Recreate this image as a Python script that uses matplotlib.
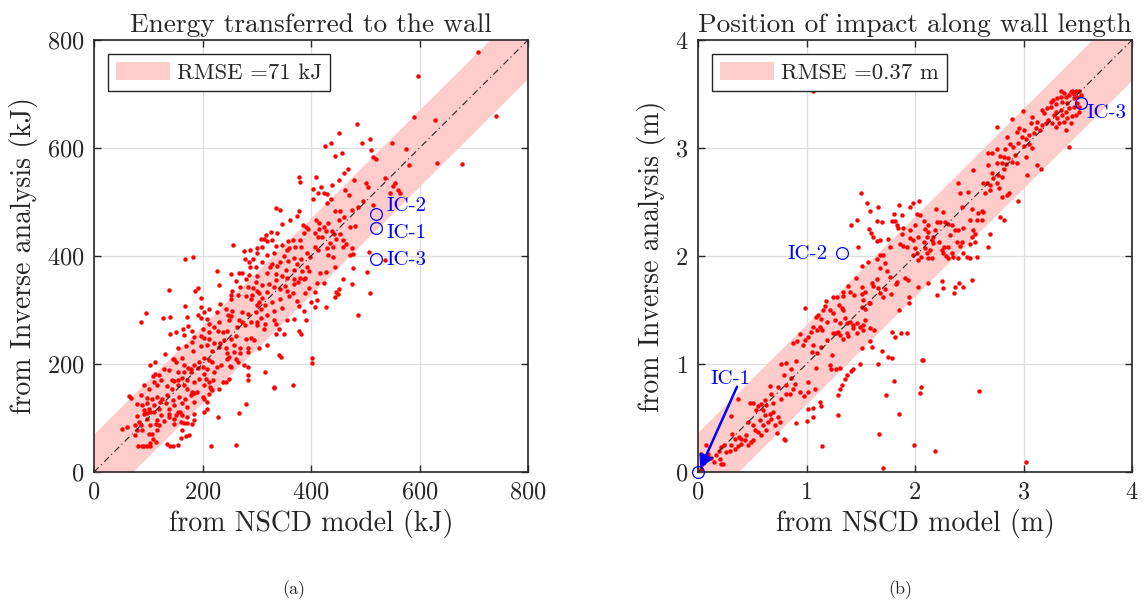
import matplotlib
matplotlib.use("Agg")
import matplotlib.pyplot as plt
from matplotlib.patches import Patch
import numpy as np

# ---------------- data: (a) energy, kJ (NSCD model, inverse analysis) ----------------
energy_pts = [
(167,394),(182,399),(278,394),(293,394),(301,405),(319,402),(332,405),(351,400),(369,396),(381,394),
(393,405),(398,399),(286,389),(310,389),(329,385),(342,389),(358,390),(375,385),(393,379),(287,379),
(299,380),(324,380),(337,381),(353,375),(369,374),(384,373),(252,367),(267,369),(272,368),(286,365),
(301,363),(319,369),(335,367),(347,363),(356,359),(369,357),(380,359),(389,360),(396,372),(227,372),
(261,354),(280,358),(298,351),(310,347),(323,348),(336,356),(352,344),(369,348),(376,351),(387,358),
(396,341),(389,332),(230,346),(187,335),(191,341),(255,336),(253,327),(270,343),(284,342),(294,341),
(300,335),(305,332),(319,333),(332,342),(342,338),(356,336),(366,332),(138,337),(197,322),(232,311),
(252,321),(265,328),(280,326),(289,321),(292,327),(304,315),(310,322),(301,309),(316,309),(329,315),
(342,320),(359,326),(374,317),(377,307),(387,298),(400,315),(168,307),(197,305),(203,296),(212,302),
(226,296),(243,302),(255,299),(272,296),(283,293),(298,296),(307,302),(319,291),(332,298),(347,304),
(95,295),(86,278),(127,286),(140,287),(172,287),(192,291),(198,286),(209,284),(212,275),(221,269),
(231,277),(247,290),(252,289),(249,281),(268,281),(273,277),(264,269),(278,273),(289,278),(301,278),
(307,286),(300,273),(313,265),(316,275),(332,281),(335,275),(341,265),(355,281),(369,284),(378,262),
(391,281),(381,256),(350,256),(335,256),(173,270),(164,264),(181,261),(141,256),(152,259),(200,265),
(212,259),(229,261),(238,259),(246,262),(165,254),(184,250),(197,251),(203,248),(212,247),(221,238),
(232,238),(240,244),(252,247),(261,252),(280,246),(289,249),(295,244),(258,236),(270,229),(283,229),
(304,229),(319,236),(341,216),(344,213),(181,241),(170,233),(155,230),(146,210),(183,225),(197,233),
(209,235),(218,225),(230,232),(243,229),(246,220),(258,222),(270,221),(284,223),(130,219),(147,209),
(152,204),(163,211),(165,199),(173,193),(178,191),(184,198),(194,204),(203,211),(212,207),(218,204),
(227,195),(235,198),(245,209),(249,213),(252,195),(265,204),(276,198),(284,195),(112,204),(104,198),
(138,188),(129,191),(154,185),(166,185),(179,185),(192,193),(200,195),(209,190),(221,185),(251,196),
(261,209),(401,211),(402,201),(113,182),(120,179),(108,178),(123,170),(111,167),(147,168),(143,171),
(154,170),(163,174),(172,170),(184,166),(194,173),(203,182),(206,173),(212,167),(219,170),(237,167),
(243,167),(249,172),(283,180),(284,170),(315,185),(93,161),(101,154),(117,161),(134,159),(143,154),
(154,162),(165,161),(172,154),(181,148),(190,148),(203,161),(214,158),(215,153),(230,154),(332,156),
(367,161),(64,141),(69,137),(86,142),(98,137),(106,136),(117,139),(126,136),(135,142),(146,133),
(157,139),(168,136),(178,142),(184,146),(200,139),(203,136),(218,151),(212,145),(80,126),(89,125),
(98,127),(111,124),(121,130),(132,127),(147,124),(163,127),(172,121),(184,130),(209,129),(209,116),
(280,126),(138,117),(92,114),(101,117),(120,117),(154,112),(104,111),(79,104),(92,108),(98,109),
(111,111),(123,105),(138,108),(151,105),(159,111),(163,105),(147,99),(172,102),(184,108),(203,112),
(229,101),(267,110),(83,93),(98,99),(117,96),(129,94),(138,102),(161,93),(172,90),(184,96),
(76,87),(52,80),(60,83),(86,87),(103,87),(114,88),(120,87),(147,88),(166,90),(180,88),
(80,77),(89,77),(101,71),(106,71),(117,77),(162,77),(160,63),(170,67),(175,69),(76,68),
(108,62),(114,55),(104,53),(82,48),(88,48),(93,48),(98,48),(104,48),(134,51),(141,48),
(146,48),(155,50),(216,48),(261,50),
(425,604),(437,609),(494,610),(550,609),(576,599),(444,585),(458,591),(515,583),(519,580),(468,562),
(460,553),(480,541),(377,546),(379,537),(410,546),(404,525),(418,527),(413,516),(424,517),(430,515),
(439,532),(452,540),(502,535),(505,528),(537,544),(555,536),(551,530),(561,522),(564,516),(545,517),
(462,522),(470,513),(496,501),(486,491),(514,494),(436,505),(430,498),(445,484),(453,484),(475,486),
(452,467),(460,472),(481,456),(471,453),(404,505),(335,488),(342,485),(378,484),(361,467),(374,474),
(346,459),(385,457),(390,453),(395,450),(388,442),(410,467),(415,462),(424,454),(427,447),(414,450),
(407,442),(412,435),(421,435),(432,461),(438,447),(442,440),(447,432),(407,417),(413,411),(430,414),
(432,402),(441,399),(444,380),(459,417),(465,422),(475,414),(478,403),(471,402),(453,441),(459,430),
(435,424),(441,417),(327,445),(338,443),(317,439),(318,428),(313,431),(307,432),(358,428),(360,414),
(367,430),(379,430),(370,417),(382,416),(328,430),(336,419),(346,421),(356,411),(256,420),(277,410),
(287,412),(301,414),(309,416),(478,377),(476,348),(508,331),(487,291),(447,334),(444,325),(424,350),
(411,350),(417,368),(427,371),(407,334),(411,319),(407,306),
(708,777),(597,733),(590,658),(628,652),(741,659),(484,645),(452,627),(509,617),(511,596),(580,569),
(632,573),(679,570),(504,371),(507,407),(537,393),(459,358),(449,329),(452,338),(331,157),(427,306),
]
energy_ic_x = [519, 519, 519]
energy_ic_y = [477, 451, 395]
energy_ic_labels = ["IC-2", "IC-1", "IC-3"]
energy_rmse = 71

# ---------------- data: (b) impact position, m ----------------
pos_pts = [
(0.937,1.281),(0.876,1.198),(0.915,1.210),(0.814,1.009),(0.906,1.025),(0.768,1.003),
(0.860,0.957),(1.091,0.963),(1.213,0.994),(1.223,0.957),(1.275,0.957),(1.306,0.963),(1.413,0.938),
(1.428,0.951),(0.793,0.895),(0.860,0.871),(0.891,0.818),(0.814,0.803),(0.737,0.787),(0.660,0.796),
(0.676,0.725),(0.614,0.664),(0.584,0.633),(0.630,0.617),(0.691,0.642),(0.768,0.679),(0.814,0.725),
(0.845,0.725),(0.876,0.766),(0.937,0.741),(0.977,0.701),(1.014,0.833),(1.014,0.741),(1.075,0.772),
(1.121,0.648),(1.131,0.611),(1.060,0.593),(1.014,0.587),(1.060,0.506),(1.005,0.472),(0.906,0.454),
(1.290,0.716),(1.306,0.772),(1.327,0.809),(1.352,0.864),(1.376,0.895),(1.290,0.525),(0.476,0.642),
(0.507,0.642),(0.553,0.611),(0.531,0.571),(0.599,0.571),(0.614,0.525),(0.660,0.540),(0.691,0.556),
(0.676,0.494),(0.737,0.509),(0.753,0.463),(0.707,0.432),(0.645,0.463),(0.568,0.479),(0.599,0.432),
(0.507,0.432),(0.461,0.463),(0.522,0.386),(0.553,0.371),(0.584,0.340),(0.630,0.386),(0.731,0.364),
(0.805,0.293),(0.307,0.519),(0.369,0.673),(0.316,0.355),(0.338,0.309),(0.378,0.324),(0.399,0.309),
(0.430,0.293),(0.461,0.247),(0.492,0.278),(0.507,0.293),(0.445,0.346),(0.399,0.263),(0.369,0.241),
(0.338,0.216),(0.307,0.247),(0.292,0.192),(0.261,0.185),(0.240,0.247),(0.215,0.232),(0.190,0.192),
(0.169,0.155),(0.200,0.124),(0.215,0.077),(0.123,0.130),(0.092,0.170),(0.077,0.247),(0.061,0.124),
(0.037,0.077),(0.025,0.170),(0.031,0.031),(0.147,0.093),(0.230,0.077),
(1.143,0.241),(1.668,0.349),(1.852,0.534),(1.736,0.710),(1.806,0.843),(1.991,0.247),(1.705,0.037),
(1.490,1.000),(1.659,1.000),
(2.875,3.037),(2.906,3.006),(2.952,3.043),(2.829,2.988),(2.752,2.988),(2.706,2.951),(2.670,2.957),
(2.783,2.926),(2.820,2.920),(2.860,2.904),(2.921,2.935),(2.752,2.864),(2.799,2.864),(2.839,2.852),
(2.891,2.873),(2.937,2.858),(2.676,2.843),(2.537,2.796),(2.706,2.765),(2.768,2.750),(2.820,2.802),
(2.799,2.728),(2.722,2.719),(2.660,2.679),(2.630,2.673),(2.691,2.657),(2.752,2.673),(2.777,2.627),
(2.691,2.611),(2.645,2.580),(2.845,2.565),(2.869,2.580),(2.802,2.543),(2.952,2.512),(2.399,2.673),
(2.415,2.586),(2.485,2.596),(2.430,2.451),(2.522,2.432),(2.614,2.420),(2.630,2.411),(2.584,2.401),
(2.783,2.358),(2.820,2.333),(2.691,2.204),(2.553,2.204),(2.676,2.080),(2.614,2.333),(2.568,2.333),
(2.507,2.333),(2.445,2.256),(2.399,2.241),(2.537,2.241),(2.522,2.179),(2.553,2.133),(2.507,2.111),
(2.193,2.432),(2.255,2.411),(2.230,2.318),(2.206,2.312),(2.279,2.318),(2.307,2.296),(2.338,2.287),
(2.368,2.241),(2.322,2.194),(2.384,2.133),(2.430,2.133),(2.415,2.093),(2.445,2.025),(2.476,1.994),
(2.507,1.978),(2.568,1.994),(2.399,1.978),(2.353,1.994),(2.338,2.025),(2.307,1.978),(2.286,2.000),
(2.261,2.025),(2.246,2.056),(2.270,2.086),(2.307,2.086),(2.184,2.241),(2.169,2.173),(2.153,2.148),
(2.138,2.056),(2.153,1.978),(2.123,1.978),(2.107,2.025),(2.092,2.071),(2.083,2.133),(2.107,2.179),
(2.117,2.225),(2.092,2.247),(2.123,2.287),(2.083,2.327),(2.046,2.380),(2.015,2.389),(2.000,2.287),
(1.954,2.241),(1.954,2.164),(1.984,2.148),(2.031,2.173),(2.000,2.071),(2.015,2.025),(1.984,2.009),
(2.031,1.963),(2.052,1.994),(2.169,2.117),(2.224,2.133),(1.984,2.488),(1.954,2.457),(2.034,2.509),
(1.855,2.472),(1.806,2.389),(1.877,2.380),(1.785,2.327),(1.816,2.327),(1.831,2.287),(1.846,2.256),
(1.892,2.256),(1.877,2.204),(1.862,2.111),(1.892,2.093),(1.923,2.080),(1.647,2.327),(1.693,2.318),
(1.499,2.586),(1.554,2.494),(1.585,2.417),(1.662,2.451),(1.468,2.333),(1.407,2.287),(1.579,2.247),
(1.597,2.210),(1.616,2.179),(1.677,2.148),(1.647,2.142),(1.754,2.157),(1.769,2.086),(1.478,2.080),
(1.708,2.009),(1.677,2.009),(1.647,1.969),(1.570,1.948),(1.508,1.911),(1.677,1.892),(1.723,1.932),
(1.745,1.864),(1.769,1.809),(1.831,1.762),(1.825,1.741),(1.908,1.793),(1.938,1.778),(2.031,1.716),
(2.123,1.747),(2.246,1.772),(2.261,1.701),(2.206,1.639),(2.368,1.716),(2.445,1.716),(2.408,1.747),
(2.528,1.778),(2.359,1.654),(1.456,1.793),(1.508,1.716),(1.539,1.670),(1.600,1.747),(1.616,1.725),
(1.653,1.784),(1.662,1.701),(1.677,1.654),(1.723,1.695),(1.776,1.645),(1.708,1.624),(1.579,1.568),
(1.524,1.593),(1.514,1.645),(1.438,1.639),(1.401,1.670),(1.385,1.722),(1.333,1.670),(1.339,1.630),
(1.278,1.624),(1.241,1.624),(1.180,1.584),(1.170,1.540),(1.155,1.500),(1.109,1.454),(1.087,1.438),
(1.130,1.414),(1.186,1.392),(1.216,1.500),(1.247,1.469),(1.263,1.408),(1.309,1.377),(1.355,1.429),
(1.370,1.383),(1.401,1.392),(1.432,1.361),(1.462,1.377),(1.493,1.340),(1.524,1.361),(1.539,1.408),
(1.508,1.531),(1.539,1.506),(1.585,1.562),(1.339,1.500),(1.302,1.546),(1.324,1.516),(1.247,1.284),
(1.272,1.290),(1.293,1.300),(1.309,1.269),(1.339,1.229),(1.370,1.284),(1.385,1.259),(1.432,1.330),
(1.462,1.290),(1.524,1.315),(1.585,1.330),(1.622,1.315),(1.124,1.346),(1.140,1.315),(1.094,1.315),
(1.063,1.346),(1.038,1.300),(1.017,1.253),(0.986,1.222),(0.971,1.176),(1.063,1.176),(1.048,1.114),
(1.094,1.099),(1.232,1.083),(1.130,1.161),(1.186,1.222),(1.948,1.624),(1.948,1.568),(1.855,1.500),
(1.785,1.300),(1.816,1.247),(1.868,1.284),(1.923,1.290),(1.585,1.216),(1.600,1.161),(1.693,1.124),
(1.754,1.068),(1.785,1.053),(1.508,1.145),(2.071,1.037),(0.983,1.516),
(3.343,3.531),(3.374,3.506),(3.435,3.522),(3.450,3.531),(3.481,3.531),(3.512,3.531),(3.466,3.500),
(3.420,3.491),(3.389,3.475),(3.343,3.475),(3.312,3.460),(3.275,3.444),(3.251,3.429),(3.297,3.407),
(3.358,3.429),(3.404,3.414),(3.466,3.460),(3.496,3.475),(3.527,3.491),(3.496,3.414),(3.512,3.383),
(3.466,3.383),(3.420,3.367),(3.389,3.337),(3.343,3.352),(3.297,3.337),(3.251,3.383),(3.220,3.367),
(3.174,3.352),(3.189,3.321),(3.281,3.306),(3.312,3.275),(3.358,3.306),(3.404,3.275),(3.444,3.296),
(3.481,3.306),(3.512,3.337),(3.435,3.229),(3.374,3.244),(3.327,3.229),(3.297,3.191),(3.266,3.229),
(3.229,3.259),(3.205,3.229),(3.174,3.213),(3.128,3.244),(3.082,3.284),(3.066,3.229),(3.112,3.182),
(3.152,3.167),(3.097,3.136),(3.051,3.120),(3.005,3.167),(2.959,3.182),(2.937,3.151),(2.990,3.105),
(3.020,3.080),(2.897,3.269),(2.996,3.346),(3.389,3.167),(2.759,3.191),(2.851,3.105),(3.420,3.012),
(3.020,2.914),(3.128,2.843),(3.159,2.803),(3.036,2.750),(3.000,3.020),(3.050,3.040),(3.080,3.000),
(1.063,3.532),(2.592,0.754),(3.020,0.092),(2.188,0.194),(2.053,0.785),(2.043,0.729),(2.065,1.040),
(0.795,0.305),
]
pos_ic_x = [0.0, 1.325, 3.53]
pos_ic_y = [0.0, 2.025, 3.415]
pos_ic_labels = ["IC-1", "IC-2", "IC-3"]
pos_rmse = 0.37

# ---------------- style ----------------
plt.rcParams["font.family"] = "cmr10"
plt.rcParams["mathtext.fontset"] = "cm"
plt.rcParams["axes.unicode_minus"] = False
plt.rcParams["axes.formatter.use_mathtext"] = True

band_col = (1.0, 0.8, 0.8)
ink = "#262626"
fig = plt.figure(figsize=(11.45, 6.08), dpi=100)
axA = fig.add_axes([94/1145, 1-472/608, 434/1145, 432/608])
axB = fig.add_axes([698/1145, 1-472/608, 434/1145, 432/608])


def style(ax, lim, ticks):
    ax.set_xlim(0, lim)
    ax.set_ylim(0, lim)
    ax.set_xticks(ticks)
    ax.set_yticks(ticks)
    ax.grid(True, color="#dedede", lw=0.9, zorder=0)
    ax.set_axisbelow(True)
    ax.tick_params(direction="in", top=True, right=True, length=5, width=1.0,
                   labelsize=17.5, color=ink, labelcolor=ink, pad=7)
    for s in ax.spines.values():
        s.set_linewidth(1.2)
        s.set_color(ink)


def panel(ax, pts, rmse, lim, unit_label, legend_txt, title):
    diag = np.array([0, lim])
    ax.fill_between(diag, diag - rmse, diag + rmse, color=band_col, lw=0, zorder=1)
    ax.plot(diag, diag, color=ink, lw=0.8, ls=(0, (6, 3, 1, 3)), zorder=3)
    xs = [p[0] for p in pts]
    ys = [p[1] for p in pts]
    ax.plot(xs, ys, "o", color="red", ms=3.2, mec="none", zorder=2)
    ax.set_title(title, fontsize=19.7, pad=6, color=ink)
    ax.set_xlabel("from NSCD model " + unit_label, fontsize=20, labelpad=4, color=ink)
    ax.set_ylabel("from Inverse analysis " + unit_label, fontsize=20, labelpad=6, color=ink)
    h = Patch(facecolor=band_col, edgecolor="none")
    leg = ax.legend([h], [legend_txt], loc="upper left", fontsize=16.4, fancybox=False,
                    framealpha=1, edgecolor=ink, handlelength=2.4, handleheight=0.85,
                    borderpad=0.35, handletextpad=0.3, borderaxespad=0.6)
    leg.get_frame().set_linewidth(1.0)
    for t in leg.get_texts():
        t.set_color(ink)


panel(axA, energy_pts, energy_rmse, 800, "(kJ)", "RMSE =71 kJ", "Energy transferred to the wall")
style(axA, 800, [0, 200, 400, 600, 800])
panel(axB, pos_pts, pos_rmse, 4, "(m)", "RMSE =0.37 m", "Position of impact along wall length")
style(axB, 4, [0, 1, 2, 3, 4])

# IC markers
axA.plot(energy_ic_x, energy_ic_y, "o", mfc="none", mec="blue", ms=8.5, mew=0.9, zorder=5)
axA.text(540, 492, energy_ic_labels[0], color="blue", fontsize=15, va="center", ha="left")
axA.text(540, 442, energy_ic_labels[1], color="blue", fontsize=15, va="center", ha="left")
axA.text(540, 392, energy_ic_labels[2], color="blue", fontsize=15, va="center", ha="left")

axB.plot(pos_ic_x, pos_ic_y, "o", mfc="none", mec="blue", ms=8.5, mew=0.9, zorder=5, clip_on=False)
axB.text(0.295, 0.86, pos_ic_labels[0], color="blue", fontsize=15, ha="center", va="center")
axB.annotate("", xy=(0.02, 0.03), xytext=(0.36, 0.79),
             arrowprops=dict(arrowstyle="-|>", color="blue", lw=1.8, mutation_scale=20,
                             shrinkA=0, shrinkB=0))
axB.text(1.19, 2.015, pos_ic_labels[1], color="blue", fontsize=15, va="center", ha="right")
axB.text(3.585, 3.32, pos_ic_labels[2], color="blue", fontsize=15, va="center", ha="left")

fig.text(294/1145, 1-590/608, "(a)", fontsize=13, ha="center", va="center", color=ink)
fig.text(900/1145, 1-590/608, "(b)", fontsize=13, ha="center", va="center", color=ink)

fig.savefig("out.png", dpi=100)
